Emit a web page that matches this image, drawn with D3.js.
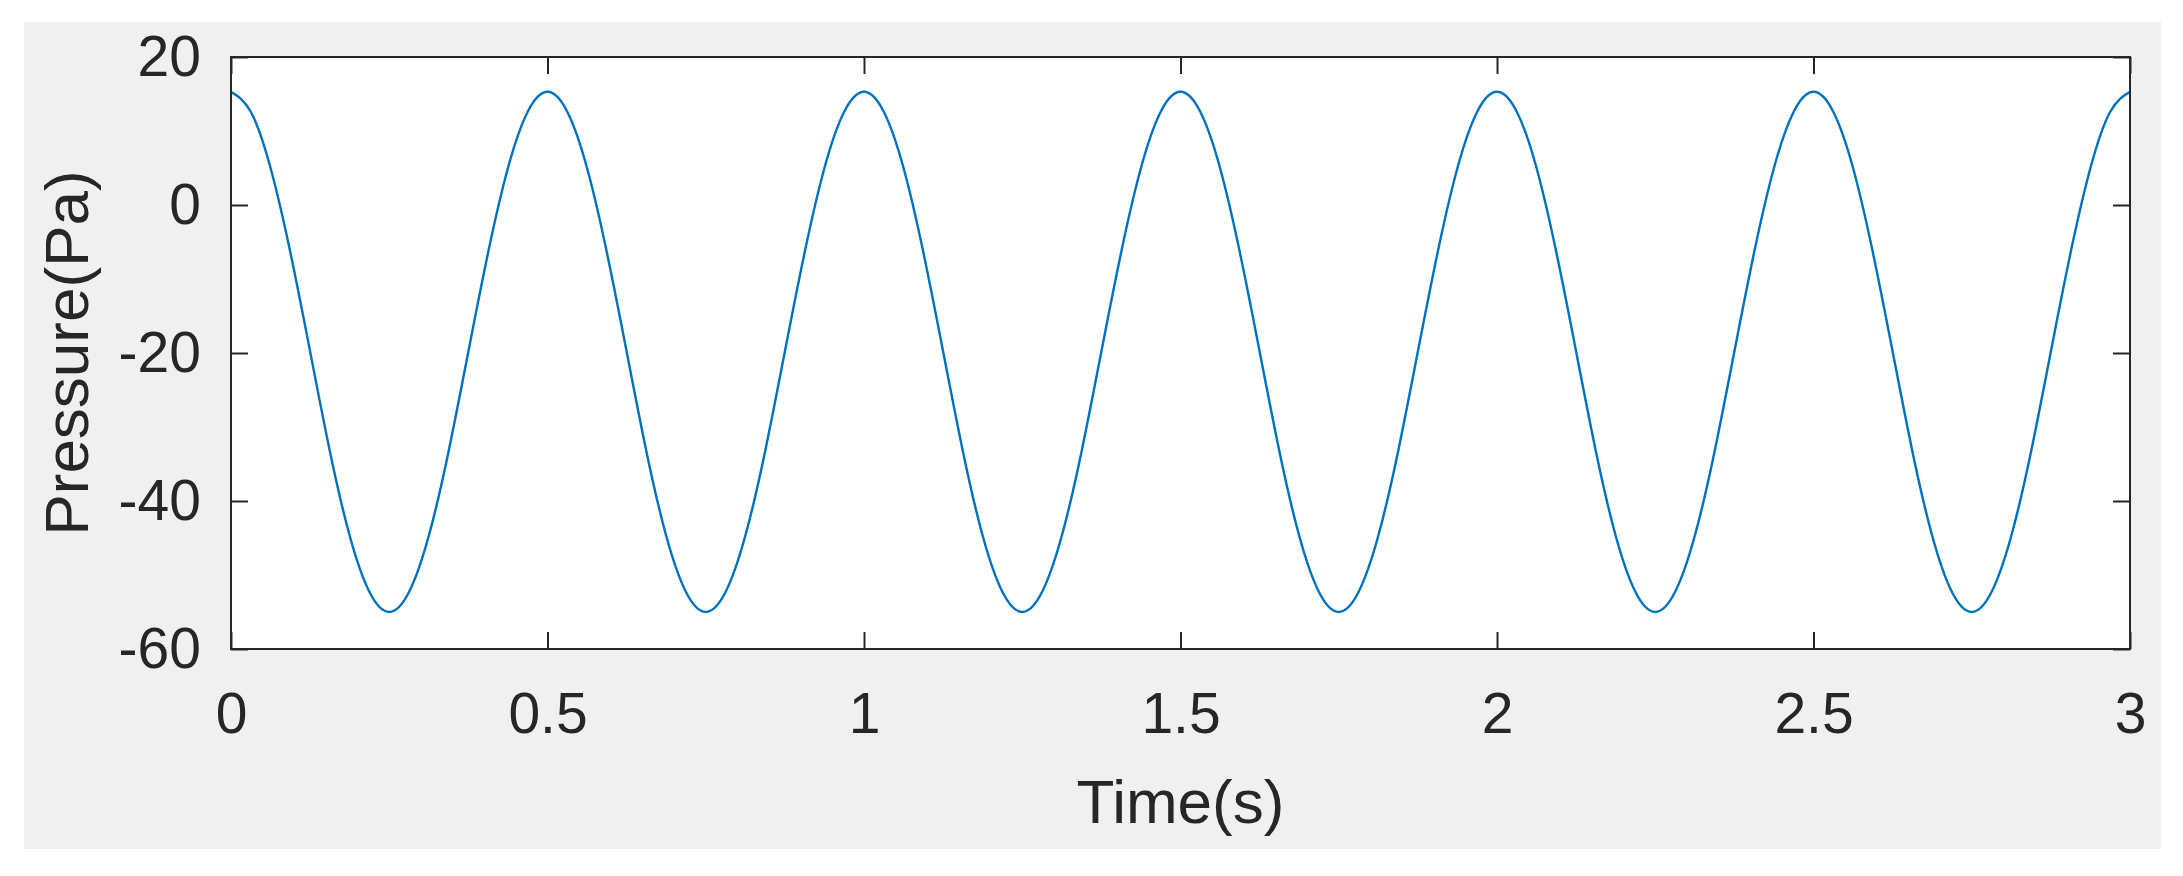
<!DOCTYPE html>
<html>
<head>
<meta charset="utf-8">
<script src="https://cdn.jsdelivr.net/npm/d3@7"></script>
<style>
  html, body { margin: 0; padding: 0; background: #ffffff; }
  svg { display: block; font-family: "Liberation Sans", Arial, sans-serif; }
</style>
</head>
<body>
<svg id="chart"></svg>
<script>
// values (every 1/16 of a period, 0.03125 s)
let tiempos = [
  0, 0.03125, 0.0625, 0.09375, 0.125, 0.15625, 0.1875, 0.21875,
  0.25, 0.28125, 0.3125, 0.34375, 0.375, 0.40625, 0.4375, 0.46875,
  0.5, 0.53125, 0.5625, 0.59375, 0.625, 0.65625, 0.6875, 0.71875,
  0.75, 0.78125, 0.8125, 0.84375, 0.875, 0.90625, 0.9375, 0.96875,
  1, 1.03125, 1.0625, 1.09375, 1.125, 1.15625, 1.1875, 1.21875,
  1.25, 1.28125, 1.3125, 1.34375, 1.375, 1.40625, 1.4375, 1.46875,
  1.5, 1.53125, 1.5625, 1.59375, 1.625, 1.65625, 1.6875, 1.71875,
  1.75, 1.78125, 1.8125, 1.84375, 1.875, 1.90625, 1.9375, 1.96875,
  2, 2.03125, 2.0625, 2.09375, 2.125, 2.15625, 2.1875, 2.21875,
  2.25, 2.28125, 2.3125, 2.34375, 2.375, 2.40625, 2.4375, 2.46875,
  2.5, 2.53125, 2.5625, 2.59375, 2.625, 2.65625, 2.6875, 2.71875,
  2.75, 2.78125, 2.8125, 2.84375, 2.875, 2.90625, 2.9375, 2.96875,
  3
]
let presiones = [
  15.3, 12.6, 5, -6.4, -19.8, -33.3, -44.7, -52.3,
  -55, -52.3, -44.7, -33.3, -19.8, -6.4, 5, 12.6,
  15.3, 12.6, 5, -6.4, -19.8, -33.3, -44.7, -52.3,
  -55, -52.3, -44.7, -33.3, -19.8, -6.4, 5, 12.6,
  15.3, 12.6, 5, -6.4, -19.8, -33.3, -44.7, -52.3,
  -55, -52.3, -44.7, -33.3, -19.8, -6.4, 5, 12.6,
  15.3, 12.6, 5, -6.4, -19.8, -33.3, -44.7, -52.3,
  -55, -52.3, -44.7, -33.3, -19.8, -6.4, 5, 12.6,
  15.3, 12.6, 5, -6.4, -19.8, -33.3, -44.7, -52.3,
  -55, -52.3, -44.7, -33.3, -19.8, -6.4, 5, 12.6,
  15.3, 12.6, 5, -6.4, -19.8, -33.3, -44.7, -52.3,
  -55, -52.3, -44.7, -33.3, -19.8, -6.4, 5, 12.6,
  15.3
]
let xTicks = [0, 0.5, 1, 1.5, 2, 2.5, 3]
let yTicks = [-60, -40, -20, 0, 20]

const widthSVG = 2183
const heightSVG = 876
const izq = 231, der = 2130, arriba = 57, abajo = 649
const tickLen = 17
const colorEjes = '#262626'

let svg = d3.select('#chart')
  .attr('width', widthSVG)
  .attr('height', heightSVG)

// gray figure background
svg.append('rect')
  .attr('x', 24).attr('y', 22)
  .attr('width', 2161 - 24).attr('height', 849 - 22)
  .attr('fill', '#f0f0f0')

// white axes area
svg.append('rect')
  .attr('x', izq).attr('y', arriba)
  .attr('width', der - izq).attr('height', abajo - arriba)
  .attr('fill', '#ffffff')

let xScale = d3.scaleLinear().domain([0, 3]).range([izq, der])
let yScale = d3.scaleLinear().domain([-60, 20]).range([abajo, arriba])

svg.append('clipPath').attr('id', 'recorte')
  .append('rect')
  .attr('x', izq).attr('y', arriba)
  .attr('width', der - izq).attr('height', abajo - arriba)

let datos = tiempos.map((t, i) => ({ t: t, p: presiones[i] }))

let linea = d3.line()
  .x(d => xScale(d.t))
  .y(d => yScale(d.p))
  .curve(d3.curveNatural)

svg.append('path')
  .datum(datos)
  .attr('clip-path', 'url(#recorte)')
  .attr('d', linea)
  .attr('fill', 'none')
  .attr('stroke', '#0072BD')
  .attr('stroke-width', 2.4)

// MATLAB uses a plain hyphen for negatives
let formato = d => String(d)

function estiloEje(g) {
  g.select('.domain').remove()
  g.selectAll('.tick line').attr('stroke', colorEjes).attr('stroke-width', 2)
  g.selectAll('.tick text')
    .attr('fill', colorEjes)
    .style('font-size', '57px')
    .style('font-family', '"Liberation Sans", Arial, sans-serif')
}

// bottom axis, ticks inside
svg.append('g')
  .attr('id', 'x-axis')
  .attr('transform', 'translate(0,' + abajo + ')')
  .call(d3.axisBottom(xScale).tickValues(xTicks).tickFormat(formato).tickSizeInner(-tickLen).tickSizeOuter(0).tickPadding(44))
  .call(estiloEje)

// top ticks
svg.append('g')
  .attr('transform', 'translate(0,' + arriba + ')')
  .call(d3.axisTop(xScale).tickValues(xTicks).tickFormat('').tickSizeInner(-tickLen).tickSizeOuter(0))
  .call(estiloEje)

// left axis
svg.append('g')
  .attr('id', 'y-axis')
  .attr('transform', 'translate(' + izq + ',0)')
  .call(d3.axisLeft(yScale).tickValues(yTicks).tickFormat(formato).tickSizeInner(-tickLen).tickSizeOuter(0).tickPadding(30))
  .call(estiloEje)

// right ticks
svg.append('g')
  .attr('transform', 'translate(' + der + ',0)')
  .call(d3.axisRight(yScale).tickValues(yTicks).tickFormat('').tickSizeInner(-tickLen).tickSizeOuter(0))
  .call(estiloEje)

// box
svg.append('rect')
  .attr('x', izq).attr('y', arriba)
  .attr('width', der - izq).attr('height', abajo - arriba)
  .attr('fill', 'none')
  .attr('stroke', colorEjes)
  .attr('stroke-width', 2)

// axis labels
svg.append('text')
  .attr('x', (izq + der) / 2)
  .attr('y', 823)
  .attr('text-anchor', 'middle')
  .attr('fill', colorEjes)
  .style('font-size', '62px')
  .text('Time(s)')

svg.append('text')
  .attr('transform', 'translate(88,' + ((arriba + abajo) / 2) + ') rotate(-90)')
  .attr('text-anchor', 'middle')
  .attr('fill', colorEjes)
  .style('font-size', '62px')
  .text('Pressure(Pa)')
</script>
</body>
</html>
